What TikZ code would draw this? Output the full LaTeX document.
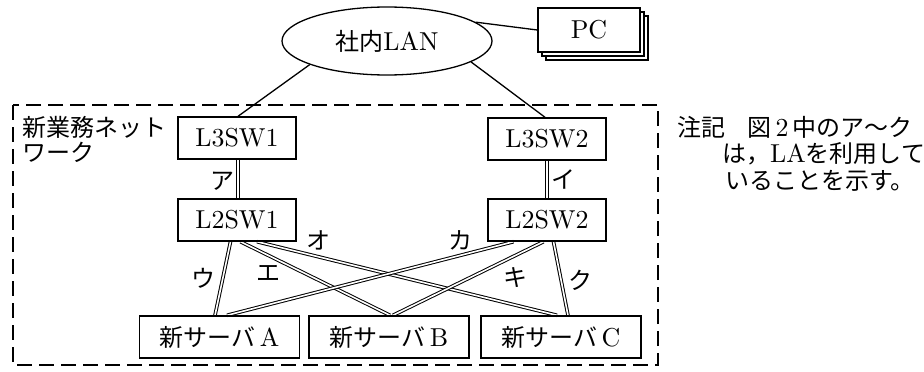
\documentclass[tikz,border=0pt]{standalone}
\usepackage{fontspec}
\setmainfont{lmroman10-regular.otf}[Scale=1.08]
\newfontfamily\cjk{Noto Sans CJK JP}
\usetikzlibrary{shapes.geometric,calc}
\pgfdeclarelayer{bg}
\pgfsetlayers{bg,main}
\begin{document}
\begin{tikzpicture}[x=1pt,y=-1pt,
  txt/.style={font=\fontsize{24}{26}\selectfont},
  box/.style={draw, line width=1.4pt, minimum width=118pt, minimum height=42pt, inner sep=0pt, txt},
  srv/.style={box, minimum width=160pt},
  lag/.style={draw, line width=1pt, double, double distance=1.6pt},
  plain/.style={draw, line width=1.3pt},
  lbl/.style={txt, inner sep=0pt},
  note/.style={txt, anchor=west, inner sep=0pt},
  frame/.style={draw, line width=1.6pt, dash pattern=on 15pt off 7pt}]
\useasboundingbox (0,0) rectangle (924,372);

% dashed network frame
\draw[frame] (13,105) rectangle (658,365);

% LAN and PCs
\node[draw, ellipse, line width=1.3pt, minimum width=210pt, minimum height=68pt, inner sep=0pt, txt] (lan) at (387,41) {{\cjk 社内}LAN};
\node[box, minimum width=102pt, minimum height=44pt, fill=white] (pc3) at (597,38) {};
\node[box, minimum width=102pt, minimum height=44pt, fill=white] (pc2) at (593,34) {};
\node[box, minimum width=102pt, minimum height=44pt, fill=white] (pc) at (589,30) {PC};

% switches
\node[box] (l3a) at (237,138) {L3SW1};
\node[box] (l3b) at (547,139) {L3SW2};
\node[box] (l2a) at (237,220) {L2SW1};
\node[box] (l2b) at (547,220) {L2SW2};

% servers
\node[srv] (sa) at (219.5,337) {{\cjk 新サーバ}\,A};
\node[srv] (sb) at (389,337) {{\cjk 新サーバ}\,B};
\node[srv] (sc) at (561,337) {{\cjk 新サーバ}\,C};

\begin{pgfonlayer}{bg}
\draw[plain] (lan.12) -- (pc.west);
\draw[plain] (lan.197) -- ([xshift=1pt]l3a.north);
\draw[plain] (lan.-14) -- ([xshift=-2pt]l3b.north);
\draw[lag] ([xshift=1pt]l3a.south) -- ([xshift=1pt]l2a.north);
\draw[lag] (l3b.south) -- (l2b.north);
\draw[lag] ([xshift=-6.5pt]l2a.south) -- ([xshift=-4.5pt]sa.north);
\draw[lag] ([xshift=3.5pt]l2a.south) -- ([xshift=1pt]sb.north);
\draw[lag] ([xshift=20pt]l2a.south) -- ([xshift=-4pt]sc.north);
\draw[lag] ([xshift=-33.5pt]l2b.south) -- ([xshift=7.5pt]sa.north);
\draw[lag] ([xshift=-3.5pt]l2b.south) -- ([xshift=4pt]sb.north);
\draw[lag] ([xshift=6.5pt]l2b.south) -- ([xshift=7pt]sc.north);
\end{pgfonlayer}

% link labels
\node[lbl] (la) at (222,181) {\cjk ア};
\node[lbl] (li) at (563,179) {\cjk イ};
\node[lbl] (lu) at (203,278) {\cjk ウ};
\node[lbl] (le) at (268,273) {\cjk エ};
\node[lbl] (lo) at (318,240) {\cjk オ};
\node[lbl] (lk) at (460,240) {\cjk カ};
\node[lbl] (lki) at (515,278) {\cjk キ};
\node[lbl] (lku) at (580,280) {\cjk ク};

% network caption
\node[note] (cap1) at (22,127) {\cjk 新業務ネット};
\node[note] (cap2) at (22,152) {\cjk ワーク};

% note
\node[note] (n1) at (677,127) {{\cjk 注記}\hspace{22pt}{\cjk 図}\,2\,{\cjk 中のア～ク}};
\node[note] (n2) at (722,154) {{\cjk は，}LA{\cjk を利用して}};
\node[note] (n3) at (725,181) {\cjk いることを示す。};
\end{tikzpicture}
\end{document}
